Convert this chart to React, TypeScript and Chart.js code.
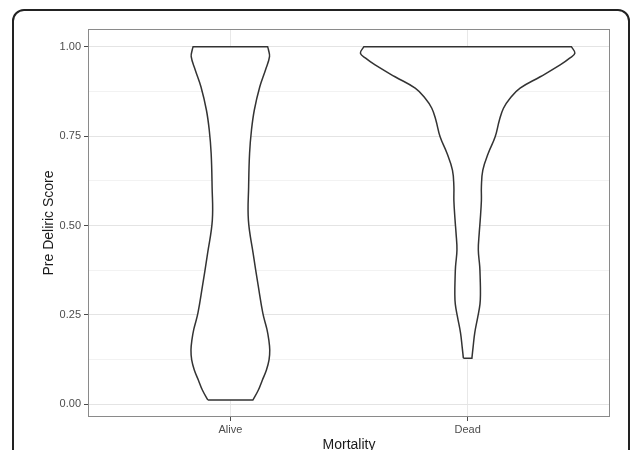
import { useEffect, useRef } from 'react';
import { Chart, registerables } from 'chart.js';

Chart.register(...registerables);

// Categories on the x axis
const CATEGORIES = ['Alive', 'Dead'];

// Y axis: labelled major ticks and unlabelled minor grid lines
const Y_MAJOR_TICKS = [0, 0.25, 0.5, 0.75, 1];
const Y_MINOR_TICKS = [0.125, 0.375, 0.625, 0.875];
const Y_MIN = -0.0355;
const Y_MAX = 1.0495;
const X_MIN = 0.4;
const X_MAX = 2.6;

// Violin outlines: score level and half-width of the scaled density (category units)
const ALIVE_SCORE = [0.012, 0.04, 0.068, 0.096, 0.124, 0.152, 0.18, 0.21, 0.254, 0.329, 0.422, 0.515, 0.609, 0.702, 0.767, 0.823, 0.888, 0.935, 0.972, 0.993, 1.0];
const ALIVE_HALF_WIDTH = [0.095, 0.118, 0.135, 0.152, 0.163, 0.166, 0.162, 0.154, 0.137, 0.118, 0.096, 0.076, 0.077, 0.081, 0.089, 0.101, 0.124, 0.148, 0.165, 0.16, 0.157];

const DEAD_SCORE = [0.129, 0.16, 0.2, 0.245, 0.28, 0.31, 0.35, 0.385, 0.432, 0.48, 0.515, 0.57, 0.609, 0.655, 0.702, 0.748, 0.795, 0.828, 0.856, 0.884, 0.916, 0.949, 0.968, 0.982, 1.0];
const DEAD_HALF_WIDTH = [0.018, 0.023, 0.03, 0.043, 0.052, 0.054, 0.053, 0.051, 0.045, 0.049, 0.053, 0.058, 0.058, 0.064, 0.087, 0.116, 0.134, 0.151, 0.179, 0.221, 0.306, 0.39, 0.43, 0.452, 0.437];

const FONT = "'Liberation Sans', Arial, Helvetica, sans-serif";
const CANVAS_W = 634;
const CANVAS_H = 460;

// Trace a closed violin: up the left edge, across the top, down the right edge
// and back along the bottom. Corner points are repeated so the flat top and
// bottom edges stay straight under the curve tension.
function violinOutline(center: number, scores: number[], halfWidths: number[]) {
  const left = scores.map((s, i) => ({ x: center - halfWidths[i], y: s }));
  const right = scores.map((s, i) => ({ x: center + halfWidths[i], y: s })).reverse();
  const n = left.length;
  return [...left, left[n - 1], right[0], ...right, right[n - 1], left[0]];
}

const isMajor = (v: number) => Y_MAJOR_TICKS.some((m) => Math.abs(m - v) < 1e-9);

// theme_bw style panel border around the plotting area
const panelBorder = {
  id: 'panelBorder',
  afterDatasetsDraw(chart: any) {
    const { ctx, chartArea } = chart;
    const { left, top, right, bottom } = chartArea;
    ctx.save();
    ctx.strokeStyle = '#8a8a8a';
    ctx.lineWidth = 1;
    ctx.strokeRect(left + 0.5, top + 0.5, right - left - 1, bottom - top - 1);
    ctx.restore();
  },
};

export default function App() {
  const canvasRef = useRef<HTMLCanvasElement | null>(null);

  useEffect(() => {
    if (!canvasRef.current) return;
    const violinStyle = {
      borderColor: '#333333',
      borderWidth: 1.5,
      backgroundColor: '#ffffff',
      fill: 'shape',
      pointRadius: 0,
      tension: 0.4,
      capBezierPoints: false,
    };
    const chart = new Chart(canvasRef.current, {
      type: 'line',
      data: {
        datasets: [
          { label: CATEGORIES[0], data: violinOutline(1, ALIVE_SCORE, ALIVE_HALF_WIDTH), ...violinStyle },
          { label: CATEGORIES[1], data: violinOutline(2, DEAD_SCORE, DEAD_HALF_WIDTH), ...violinStyle },
        ],
      } as any,
      options: {
        responsive: false,
        animation: false,
        indexAxis: 'y',
        layout: { padding: { top: 29, right: 24, left: 0, bottom: 0 } },
        plugins: { legend: { display: false }, tooltip: { enabled: false } },
        scales: {
          x: {
            type: 'linear',
            position: 'bottom',
            min: X_MIN,
            max: X_MAX,
            afterFit: (scale: any) => {
              scale.height = CANVAS_H - 417;
            },
            afterBuildTicks: (scale: any) => {
              scale.ticks = CATEGORIES.map((_, i) => ({ value: i + 1 }));
            },
            ticks: {
              autoSkip: false,
              maxRotation: 0,
              padding: 2,
              color: '#4d4d4d',
              font: { family: FONT, size: 11 },
              callback: (_v: any, i: number) => CATEGORIES[i],
            },
            grid: {
              color: '#e8e8e8',
              lineWidth: 1,
              tickLength: 4,
              tickColor: '#4a4a4a',
              tickWidth: 1,
            },
            border: { display: false },
            title: {
              display: true,
              text: 'Mortality',
              color: '#1a1a1a',
              font: { family: FONT, size: 14 },
              padding: { top: 0, bottom: 6.4 },
            },
          },
          y: {
            type: 'linear',
            position: 'left',
            min: Y_MIN,
            max: Y_MAX,
            afterFit: (scale: any) => {
              scale.width = 88;
            },
            afterBuildTicks: (scale: any) => {
              scale.ticks = [...Y_MAJOR_TICKS, ...Y_MINOR_TICKS]
                .sort((a, b) => a - b)
                .map((v) => ({ value: v }));
            },
            ticks: {
              autoSkip: false,
              padding: 3,
              color: '#4d4d4d',
              font: { family: FONT, size: 11 },
              callback: (v: any) => (isMajor(Number(v)) ? Number(v).toFixed(2) : ''),
            },
            grid: {
              color: (ctx: any) => (isMajor(ctx.tick.value) ? '#e4e4e4' : '#f2f2f2'),
              lineWidth: 1,
              tickLength: 4,
              tickColor: (ctx: any) => (isMajor(ctx.tick.value) ? '#4a4a4a' : 'rgba(0,0,0,0)'),
              tickWidth: 1,
            },
            border: { display: false },
            title: {
              display: true,
              text: 'Pre Deliric Score',
              color: '#1a1a1a',
              font: { family: FONT, size: 14 },
              padding: { top: 41, bottom: 0 },
            },
          },
        },
      } as any,
      plugins: [panelBorder],
    });
    return () => chart.destroy();
  }, []);

  return (
    <div
      style={{
        position: 'fixed',
        left: 0,
        top: 0,
        width: 634,
        height: 450,
        overflow: 'hidden',
        background: '#ffffff',
      }}
    >
      <canvas
        ref={canvasRef}
        width={CANVAS_W}
        height={CANVAS_H}
        style={{ position: 'absolute', left: 0, top: 0, display: 'block' }}
      />
      <div
        style={{
          position: 'absolute',
          left: 12,
          top: 9,
          width: 618,
          height: 480,
          boxSizing: 'border-box',
          border: '2px solid #222',
          borderRadius: 12,
          pointerEvents: 'none',
        }}
      />
    </div>
  );
}
